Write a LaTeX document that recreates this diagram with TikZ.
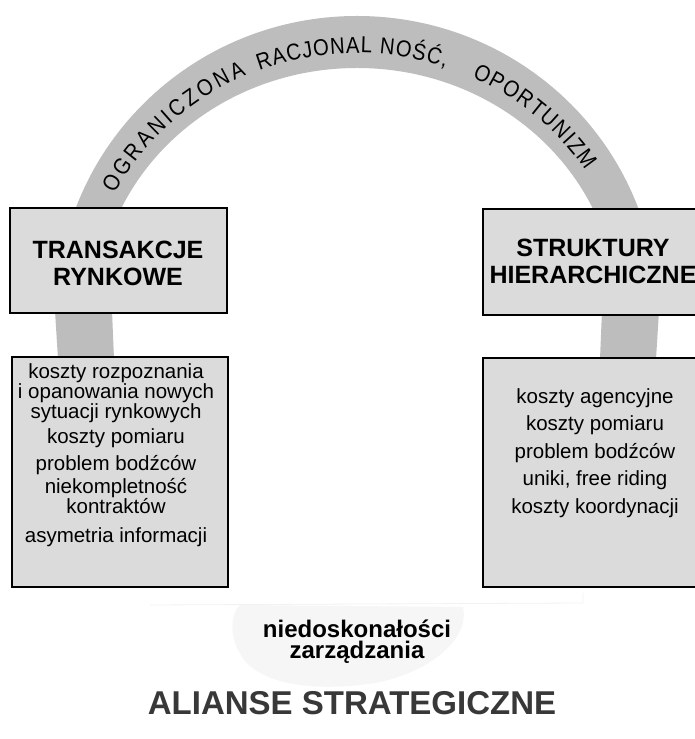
\documentclass[tikz,border=0pt]{standalone}
\usepackage{fontspec}
\setmainfont{Liberation Sans}
\newfontfamily\arcfamily[FakeStretch=0.88]{Liberation Sans}
\usetikzlibrary{decorations.text}
\definecolor{bandgray}{gray}{0.74}
\definecolor{boxgray}{gray}{0.86}
\definecolor{faintgray}{gray}{0.965}
\definecolor{alliancegray}{gray}{0.22}
\newcommand\arcfont{\arcfamily\fontsize{23}{23}\selectfont}
\tikzset{
  boxst/.style={draw=black, line width=1.3pt, fill=boxgray, inner sep=0pt},
  titlest/.style={font=\fontsize{25}{27}\selectfont\bfseries, align=center, inner sep=0pt},
  bodyst/.style={font=\fontsize{20.5}{18.5}\selectfont, align=center, inner sep=0pt},
  bodywide/.style={font=\fontsize{20.5}{27.5}\selectfont, align=center, inner sep=0pt},
  arctext/.style={decorate, decoration={text along path, text align=fit to path, text={|\arcfont|#1}}},
}
\begin{document}
\begin{tikzpicture}[x=1pt,y=1pt]
\useasboundingbox (0,0) rectangle (695,739);
\clip (0,0) rectangle (695,739);
\fill[white] (0,0) rectangle (695,739);

% arch band
\begin{scope}
  \clip (0,528) rectangle (695,739);
  \fill[bandgray, even odd rule] (357,428) ellipse [x radius=300, y radius=295]
                                 (357,428) ellipse [x radius=260, y radius=243];
\end{scope}
% band pieces between the boxes
\fill[bandgray] (55,428) -- (112,428) -- (114,380) -- (58,380) -- cycle;
\fill[bandgray] (602,428) -- (659,428) -- (656,380) -- (600,380) -- cycle;

% text along the arch
\path[arctext={OGRANICZONA}] ([shift={(357,428)}]153:272 and 258) arc[start angle=153, end angle=114, x radius=272, y radius=258];
\path[arctext={RACJONAL NOŚĆ,}] ([shift={(357,428)}]111:272 and 258) arc[start angle=111, end angle=71, x radius=272, y radius=258];
\path[arctext={OPORTUNIZM}] ([shift={(357,428)}]65:272 and 258) arc[start angle=65, end angle=33, x radius=272, y radius=258];

% boxes
\node[boxst, minimum width=217pt, minimum height=105pt] (tr) at (118.5,478.5) {};
\node[boxst, minimum width=222pt, minimum height=106pt] (st) at (594,477) {};
\node[boxst, minimum width=216pt, minimum height=230pt] (lb) at (120,267) {};
\node[boxst, minimum width=222pt, minimum height=229pt] (rb) at (594,266.5) {};

% titles
\node[titlest] (trt) at (118,475.5) {TRANSAKCJE\\RYNKOWE};
\node[titlest] (stt) at (593,477.5) {STRUKTURY\\HIERARCHICZNE};

% left list
\node[bodyst] (l1) at (116,346) {koszty rozpoznania\\i opanowania nowych\\sytuacji rynkowych};
\node[bodyst] (l2) at (116,301) {koszty pomiaru};
\node[bodyst] (l3) at (116,274) {problem bodźców};
\node[bodyst] (l4) at (116,243) {niekompletność\\kontraktów};
\node[bodyst] (l5) at (116,202) {asymetria informacji};

% right list
\node[bodywide] (r1) at (595,286) {koszty agencyjne\\koszty pomiaru\\problem bodźców\\uniki, free riding\\koszty koordynacji};

% faint patch under the bottom label
\fill[faintgray] (240,134) -- (463,132) .. controls (470,100) and (430,68) .. (380,57)
  .. controls (330,48) and (270,50) .. (245,78) .. controls (228,100) and (230,124) .. (240,134) -- cycle;
\draw[gray!10, line width=0.8pt] (150,134) -- (583,136) -- (583,146);

\node[font=\fontsize{24}{21}\selectfont\bfseries, align=center, inner sep=0pt] (nz) at (357,97) {niedoskonałości\\zarządzania};
\node[font=\fontsize{33}{35}\selectfont\bfseries, text=alliancegray, inner sep=0pt] (al) at (352,36) {ALIANSE STRATEGICZNE};
\end{tikzpicture}
\end{document}
